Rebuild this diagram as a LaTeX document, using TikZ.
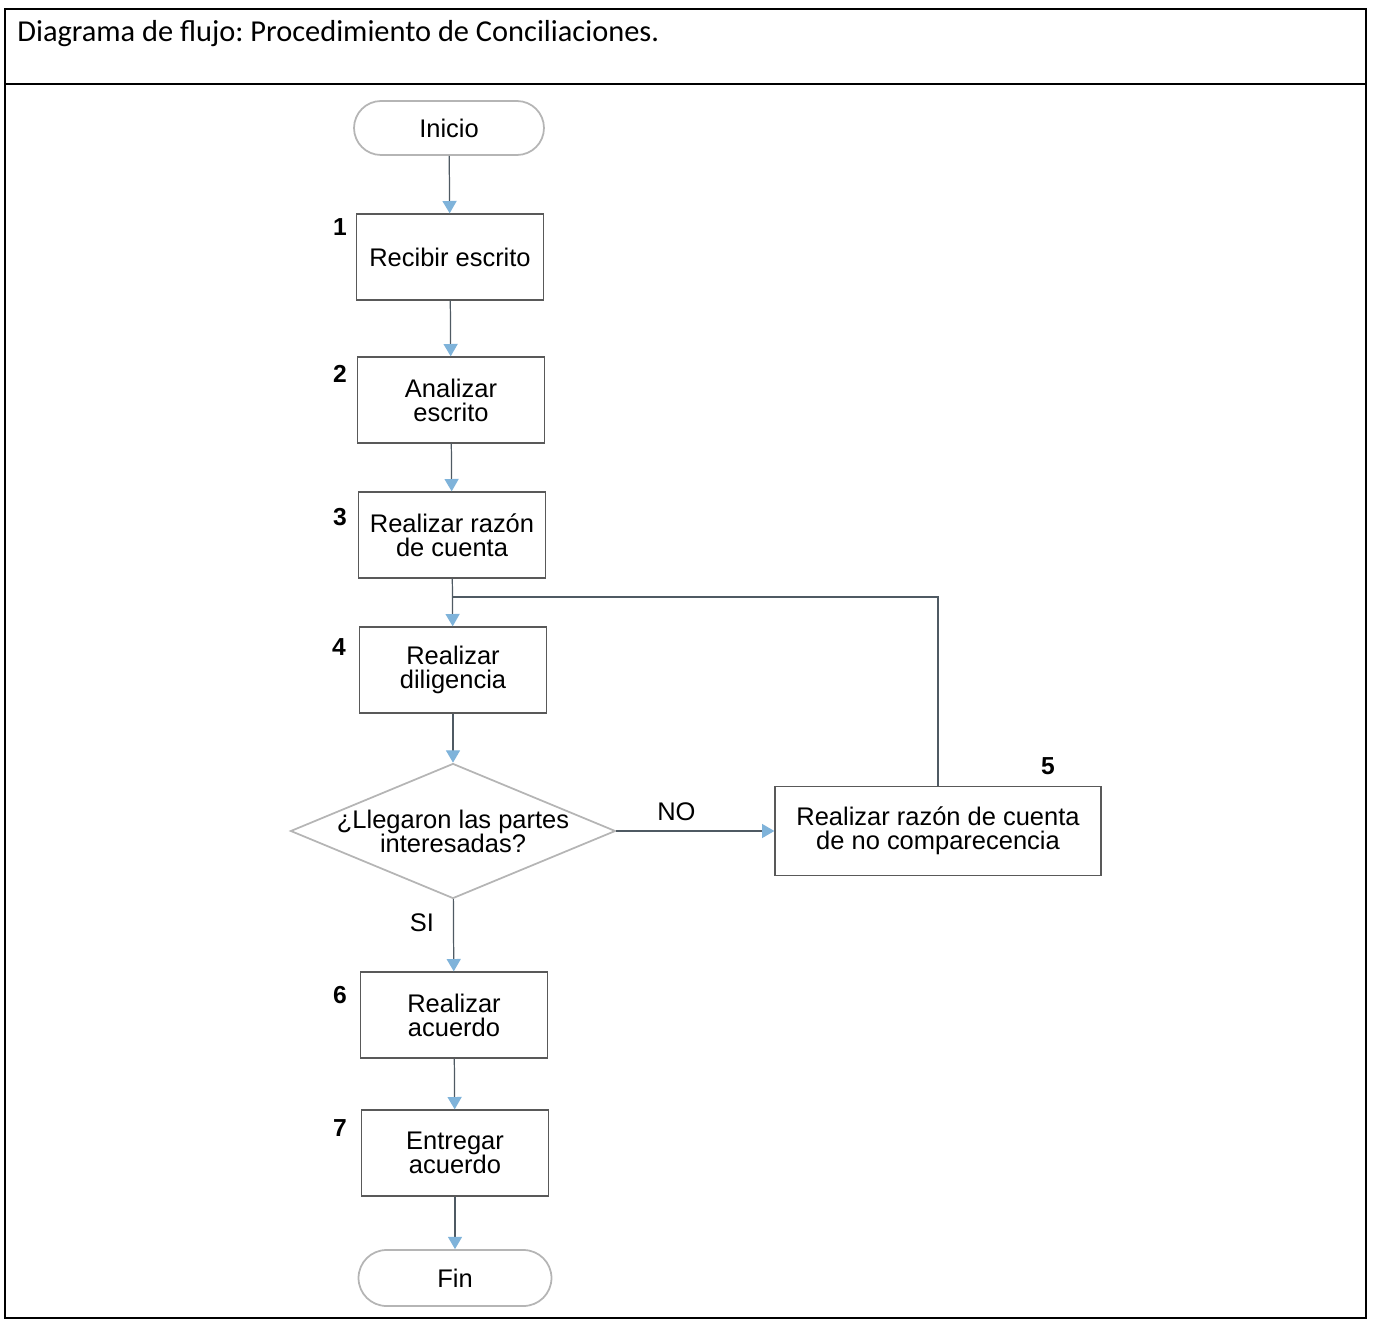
\documentclass[tikz,border=0pt]{standalone}
\usepackage{fontspec}
\setmainfont{Liberation Sans}
\newfontfamily\titlefont{Carlito}
\usetikzlibrary{arrows.meta}
\usetikzlibrary{shapes.geometric}
\frenchspacing
\definecolor{flecha}{HTML}{7FB3DA}
\definecolor{linea}{HTML}{4F5A63}
\definecolor{borde}{HTML}{B5B5B5}
\tikzset{stp/.style={draw=black!65, line width=0.8pt, minimum width=3.74cm, minimum height=1.72cm, align=center, font=\fontsize{14.5}{13.6}\selectfont}}
\tikzset{ter/.style={draw=borde, line width=1pt, rounded corners=0.54cm, minimum width=3.8cm, minimum height=1.08cm, font=\fontsize{14.5}{14}\selectfont}}
\tikzset{dia/.style={draw=borde, line width=1pt, diamond, minimum width=6.5cm, minimum height=2.7cm}}
\tikzset{nr/.style={font=\bfseries\fontsize{14}{14}\selectfont}}
\tikzset{lb/.style={font=\fontsize{14.5}{13.6}\selectfont}}
\tikzset{fl/.style={draw=linea, line width=0.7pt}}

\begin{document}
\begin{tikzpicture}[x=0.02cm, y=-0.02cm, >={Triangle[length=7pt,width=8pt,fill=flecha,color=flecha]}]
  \useasboundingbox (0,0) rectangle (1390,1328);
  % marco y encabezado
  \draw[line width=1.1pt] (5,9) rectangle (1366,1318);
  \draw[line width=1.1pt] (5,84) -- (1366,84);
  \node[anchor=base west, inner sep=0pt, font=\titlefont\fontsize{17.3}{17.3}\selectfont] (tit) at (17,42) {Diagrama de flujo: Procedimiento de Conciliaciones.};

  % pasos
  \node[ter] (ini) at (449,128) {Inicio};
  \node[stp] (s1) at (450,257) {Recibir escrito}
    edge [fl,<-] (ini);
  \node[stp] (s2) at (451,400) {Analizar\\escrito}
    edge [fl,<-] (s1);
  \node[stp] (s3) at (452,535) {Realizar razón\\de cuenta}
    edge [fl,<-] (s2);
  \node[stp] (s4) at (453,670) {Realizar\\diligencia}
    edge [fl,<-] (s3);
  \node[dia, label={[align=center, lb]center:¿Llegaron las partes\\interesadas?}] (q) at (453,831) {}
    edge [fl,<-] (s4);
  \node[stp, minimum width=6.52cm, minimum height=1.78cm] (s5) at (938,831) {Realizar razón de cuenta\\de no comparecencia}
    edge [fl,<-] node [pos=0.62, above=2pt, lb] {NO} (q);
  \node[stp] (s6) at (454,1015) {Realizar\\acuerdo}
    edge [fl,<-] node [pos=0.68, left=0.26cm, lb] {SI} (q);
  \node[stp] (s7) at (455,1153) {Entregar\\acuerdo}
    edge [fl,<-] (s6);
  \node[ter, minimum width=3.86cm, minimum height=1.12cm, rounded corners=0.56cm] (fin) at (455,1278) {Fin}
    edge [fl,<-] (s7);

  % retorno a la diligencia
  \coordinate (j) at (452.5,597);
  \draw[fl] (s5.north) |- (j);

  % numeros de paso
  \node[nr] (n1) at (340,227) {1};
  \node[nr] (n2) at (340,374) {2};
  \node[nr] (n3) at (340,517) {3};
  \node[nr] (n4) at (339,647) {4};
  \node[nr] (n5) at (1048,766) {5};
  \node[nr] (n6) at (340,995) {6};
  \node[nr] (n7) at (340,1128) {7};
\end{tikzpicture}
\end{document}
